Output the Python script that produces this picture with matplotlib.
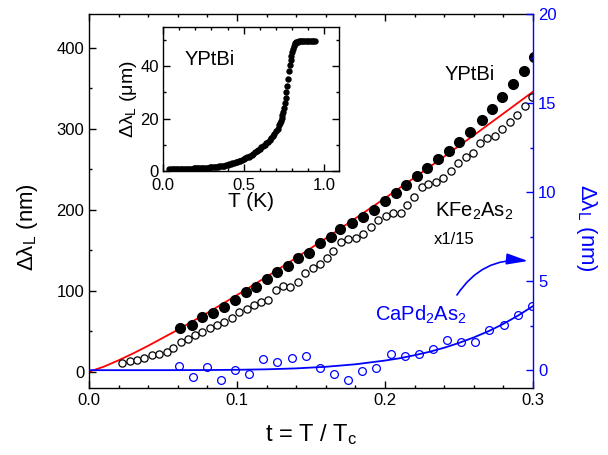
import matplotlib
matplotlib.use('Agg')
import matplotlib.pyplot as plt
from matplotlib.ticker import MultipleLocator, FormatStrFormatter

plt.rcParams['font.family'] = ['Liberation Sans', 'DejaVu Sans']
plt.rcParams['mathtext.fontset'] = 'custom'
plt.rcParams['mathtext.rm'] = 'Liberation Sans'
plt.rcParams['mathtext.it'] = 'Liberation Sans'
plt.rcParams['mathtext.bf'] = 'Liberation Sans:bold'

# YPtBi (filled, nm)
t_ypt = [0.0617, 0.0694, 0.0766, 0.0840, 0.0912, 0.0986, 0.1059, 0.1128, 0.1201,
         0.1272, 0.1345, 0.1414, 0.1489, 0.1561, 0.1633, 0.1696, 0.1775, 0.1849,
         0.1926, 0.2000, 0.2072, 0.2142, 0.2214, 0.2286, 0.2356, 0.2432, 0.2502,
         0.2576, 0.2653, 0.2725, 0.2793, 0.2867, 0.2941, 0.3005]
dl_ypt = [54.3, 57.7, 67.2, 72.8, 79.5, 88.5, 98.0, 104.9, 114.4,
          123.1, 130.5, 140.0, 146.9, 158.4, 165.8, 175.8, 184.0, 191.4,
          199.6, 210.7, 221.0, 230.5, 241.6, 251.9, 262.2, 272.8, 283.9,
          296.3, 310.7, 324.3, 339.5, 354.8, 371.2, 388.1]

# KFe2As2 (open, nm, x1/15)
t_kfe = [0.0225, 0.0277, 0.0322, 0.0374, 0.0424, 0.0475, 0.0525, 0.0570, 0.0620,
         0.0667, 0.0716, 0.0766, 0.0818, 0.0867, 0.0914, 0.0964, 0.1014, 0.1066,
         0.1115, 0.1162, 0.1211, 0.1261, 0.1311, 0.1361, 0.1409, 0.1459, 0.1511,
         0.1561, 0.1606, 0.1651, 0.1703, 0.1752, 0.1804, 0.1853, 0.1903, 0.1955,
         0.2007, 0.2056, 0.2106, 0.2147, 0.2196, 0.2248, 0.2293, 0.2345, 0.2394,
         0.2444, 0.2495, 0.2547, 0.2593, 0.2642, 0.2691, 0.2743, 0.2793, 0.2845,
         0.2894, 0.2946, 0.2995]
dl_kfe = [10.4, 13.2, 14.4, 17.3, 20.6, 21.9, 23.9, 29.6, 36.2,
          39.9, 45.2, 49.3, 54.3, 57.7, 61.0, 65.9, 73.3, 77.4,
          82.3, 85.7, 88.5, 100.9, 106.0, 104.5, 110.5, 122.2, 128.4,
          132.9, 140.0, 149.4, 160.5, 163.5, 164.7, 170.0, 178.3, 187.3,
          192.2, 196.3, 195.5, 205.8, 216.0, 227.7, 231.7, 234.6, 238.8,
          247.8, 257.3, 264.7, 270.4, 282.0, 288.1, 291.0, 299.3, 308.6,
          316.9, 328.0, 338.8]

# fit curve for YPtBi (nm)
t_fit = [0.0, 0.01, 0.02, 0.03, 0.04, 0.06, 0.08, 0.10, 0.12, 0.14, 0.16,
         0.18, 0.20, 0.22, 0.24, 0.26, 0.28, 0.30]
dl_fit = [0.0, 6.3, 14.2, 22.8, 32.1, 51.8, 72.7, 94.6, 117.2, 140.7, 164.6,
          189.3, 214.2, 239.7, 265.6, 291.9, 318.7, 345.6]

# CaPd2As2 (right axis, nm)
t_cap = [0.0608, 0.0701, 0.0797, 0.0892, 0.0986, 0.1081, 0.1178, 0.1272, 0.1370,
         0.1466, 0.1561, 0.1655, 0.1752, 0.1847, 0.1941, 0.2039, 0.2133, 0.2228,
         0.2324, 0.2419, 0.2516, 0.2610, 0.2705, 0.2802, 0.2897, 0.2995]
dl_cap = [0.25, -0.38, 0.18, -0.55, -0.01, -0.21, 0.64, 0.47, 0.71,
          0.77, 0.12, -0.21, -0.53, -0.03, 0.12, 0.92, 0.81, 0.92,
          1.20, 1.68, 1.60, 1.59, 2.26, 2.54, 3.08, 3.60]

t_capfit = [0.0, 0.04, 0.06, 0.08, 0.10, 0.12, 0.14, 0.16, 0.18, 0.20, 0.21,
            0.22, 0.23, 0.24, 0.25, 0.26, 0.27, 0.28, 0.29, 0.30]
dl_capfit = [0.0, 0.0, 0.002, 0.007, 0.021, 0.048, 0.10, 0.19, 0.33, 0.54, 0.67,
             0.84, 1.03, 1.26, 1.53, 1.84, 2.19, 2.60, 3.07, 3.60]

# inset: YPtBi full range (um vs K)
T_in = [0.04, 0.05, 0.06, 0.07, 0.08, 0.09, 0.10, 0.11, 0.12, 0.13, 0.14, 0.15,
        0.16, 0.17, 0.18, 0.19, 0.20, 0.21, 0.22, 0.23, 0.24, 0.25, 0.26, 0.27,
        0.28, 0.29, 0.30, 0.31, 0.32, 0.33, 0.34, 0.35, 0.36, 0.37, 0.38, 0.39,
        0.40, 0.41, 0.42, 0.43, 0.44, 0.45, 0.46, 0.47, 0.48, 0.49, 0.50, 0.51,
        0.52, 0.53, 0.54, 0.55, 0.56, 0.57, 0.58, 0.59, 0.60, 0.61, 0.62, 0.63,
        0.64, 0.65, 0.66, 0.67, 0.68, 0.69, 0.70, 0.71, 0.72, 0.725, 0.73, 0.735,
        0.74, 0.745, 0.75, 0.755, 0.76, 0.765, 0.77, 0.775, 0.78, 0.785, 0.79,
        0.795, 0.80, 0.805, 0.81, 0.815, 0.82, 0.825, 0.83, 0.835, 0.84, 0.85,
        0.86, 0.87, 0.88, 0.89, 0.90, 0.91, 0.92, 0.93, 0.94]
dl_in = [0.8, 0.8, 0.8, 0.8, 0.8, 0.8, 0.8, 0.85, 0.85, 0.85, 0.9, 0.9,
         0.9, 0.95, 0.95, 1.0, 1.0, 1.05, 1.1, 1.1, 1.15, 1.2, 1.25, 1.3,
         1.35, 1.4, 1.45, 1.5, 1.55, 1.6, 1.7, 1.8, 1.9, 2.0, 2.1, 2.25,
         2.4, 2.55, 2.7, 2.9, 3.1, 3.3, 3.5, 3.75, 4.0, 4.3, 4.6, 4.9,
         5.2, 5.5, 5.9, 6.3, 6.7, 7.1, 7.5, 8.0, 8.5, 9.0, 9.5, 10.0,
         10.6, 11.2, 11.9, 12.6, 13.4, 14.3, 15.2, 16.2, 17.5, 18.3, 19.2, 20.2,
         21.3, 22.6, 24.1, 25.8, 27.8, 30.0, 32.5, 35.2, 38.0, 40.3, 42.3,
         44.0, 45.4, 46.6, 47.6, 48.3, 48.8, 49.1, 49.3, 49.4, 49.5, 49.6,
         49.6, 49.6, 49.6, 49.6, 49.6, 49.6, 49.6, 49.6, 49.6]


def estilo_ejes(ax, size=12):
    ax.tick_params(which='both', direction='in', labelsize=size, width=1)
    ax.tick_params(which='major', length=5)
    ax.tick_params(which='minor', length=2.5)
    for s in ax.spines.values():
        s.set_linewidth(1)


def main():
    fig = plt.figure(figsize=(6.08, 4.55), dpi=100)
    ax = fig.add_axes([0.1464, 0.1473, 0.7303, 0.822])
    ax2 = ax.twinx()

    ax.plot(t_fit, dl_fit, color='red', lw=1.3, zorder=2)
    ax.plot(t_ypt, dl_ypt, 'o', color='black', ms=7, zorder=3)
    ax.plot(t_kfe, dl_kfe, 'o', mfc='white', mec='black', mew=0.9, ms=5.2, zorder=3)

    ax2.plot(t_capfit, dl_capfit, color='blue', lw=1.3)
    ax2.plot(t_cap, dl_cap, 'o', mfc='none', mec='blue', mew=0.9, ms=5.6)

    ax.set_xlim(0, 0.3)
    ax.set_ylim(-20, 441.5)
    ax2.set_ylim(-1.0, 20)
    ax.xaxis.set_major_locator(MultipleLocator(0.1))
    ax.xaxis.set_minor_locator(MultipleLocator(0.02))
    ax.xaxis.set_major_formatter(FormatStrFormatter('%.1f'))
    ax.yaxis.set_major_locator(MultipleLocator(100))
    ax.yaxis.set_minor_locator(MultipleLocator(50))
    ax2.yaxis.set_major_locator(MultipleLocator(5))
    ax2.yaxis.set_minor_locator(MultipleLocator(2.5))

    estilo_ejes(ax)
    estilo_ejes(ax2)
    ax.tick_params(which='both', top=True, right=False)
    ax.spines['right'].set_visible(False)
    ax2.spines['right'].set_color('blue')
    ax2.spines['left'].set_visible(False)
    ax2.spines['top'].set_visible(False)
    ax2.spines['bottom'].set_visible(False)
    ax2.tick_params(which='both', colors='blue', labelcolor='blue')

    ax.set_xlabel('t = T / T$_\\mathrm{c}$', fontsize=17, labelpad=10)
    fig.text(0.046, 0.50, 'Δλ$_\\mathrm{L}$ (nm)', rotation=90, fontsize=16,
             ha='center', va='center')
    fig.text(0.964, 0.50, 'Δλ$_\\mathrm{L}$ (nm)', rotation=-90, fontsize=16,
             ha='center', va='center', color='blue')

    ax.text(0.2405, 360, 'YPtBi', fontsize=14.5, ha='left', va='baseline')
    ax.text(0.2338, 191.4, 'KFe$_2$As$_2$', fontsize=14.5, ha='left', va='baseline')
    ax.text(0.2331, 157.4, 'x1/15', fontsize=12, ha='left', va='baseline')
    ax.text(0.1932, 63, 'CaPd$_2$As$_2$', fontsize=14.5, color='blue',
            ha='left', va='baseline')

    ax2.annotate('', xy=(0.2966, 6.13), xytext=(0.2486, 4.22),
                 arrowprops=dict(arrowstyle='-|>,head_length=0.65,head_width=0.17',
                                 connectionstyle='arc3,rad=-0.3', color='blue',
                                 lw=1.2, mutation_scale=20, shrinkA=0, shrinkB=0))

    # inset
    axi = fig.add_axes([0.268, 0.624, 0.2895, 0.317])
    axi.plot(T_in, dl_in, 'o', color='black', ms=4.6, mew=0)
    axi.set_xlim(0, 1.09)
    axi.set_ylim(0, 55)
    axi.xaxis.set_major_locator(MultipleLocator(0.5))
    axi.xaxis.set_minor_locator(MultipleLocator(0.1))
    axi.xaxis.set_major_formatter(FormatStrFormatter('%.1f'))
    axi.yaxis.set_major_locator(MultipleLocator(20))
    axi.yaxis.set_minor_locator(MultipleLocator(10))
    estilo_ejes(axi)
    axi.tick_params(which='both', top=True, right=True)
    axi.tick_params(axis='y', pad=3)
    axi.tick_params(axis='x', pad=5)
    axi.set_xlabel('T (K)', fontsize=15, labelpad=-1)
    axi.set_ylabel('Δλ$_\\mathrm{L}$ (μm)', fontsize=14, labelpad=1)
    axi.text(0.137, 40.4, 'YPtBi', fontsize=14.5, ha='left', va='baseline')

    fig.savefig('out.png', dpi=100)


if __name__ == '__main__':
    main()
